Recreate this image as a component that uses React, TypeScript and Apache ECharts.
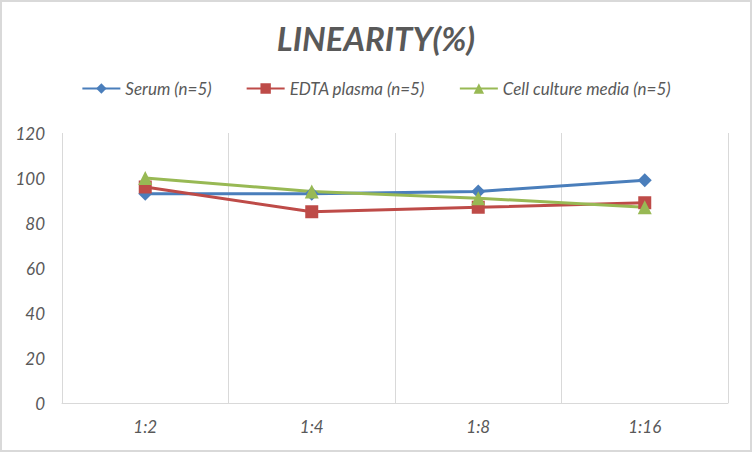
import { useEffect, useRef } from 'react'
import * as echarts from 'echarts'

// data
const categories = ['1:2', '1:4', '1:8', '1:16']
const serum = [93, 93, 94, 99]
const edtaPlasma = [96, 85, 87, 89]
const cellCulture = [100, 94, 91, 87]
const seriesNames = ['Serum (n=5)', 'EDTA plasma (n=5)', 'Cell culture media (n=5)']

const FONT = 'Lato, "Open Sans", sans-serif'
const GREY = '#595959'

const App: React.FC = () => {
  const chartRef = useRef<HTMLDivElement | null>(null)

  useEffect(() => {
    if (chartRef.current === null) return
    const chart = echarts.init(chartRef.current, null, { renderer: 'svg' })

    const line = (name: string, data: number[], color: string, symbol: string, size: number) => ({
      name,
      type: 'line',
      data,
      symbol,
      symbolSize: size,
      itemStyle: { color },
      lineStyle: { color, width: 3 }
    })

    chart.setOption({
      animation: false,
      backgroundColor: '#fff',
      title: {
        text: 'LINEARITY(%)',
        left: 'center',
        top: 14,
        textStyle: {
          fontFamily: FONT,
          fontSize: 33,
          fontWeight: 'bold',
          fontStyle: 'italic',
          color: GREY
        }
      },
      legend: {
        top: 73,
        left: 'center',
        itemWidth: 38,
        itemHeight: 13,
        itemGap: 34,
        textStyle: { fontFamily: FONT, fontSize: 17, fontStyle: 'italic', color: GREY },
        data: seriesNames
      },
      grid: { left: 60, right: 22, top: 131, bottom: 47 },
      xAxis: {
        type: 'category',
        data: categories,
        axisLine: { lineStyle: { color: '#d9d9d9', width: 1 } },
        axisTick: { show: false },
        splitLine: { show: true, lineStyle: { color: '#d9d9d9', width: 1 } },
        axisLabel: { fontFamily: FONT, fontSize: 17, fontStyle: 'italic', color: GREY, margin: 15 }
      },
      yAxis: {
        type: 'value',
        min: 0,
        max: 120,
        interval: 20,
        axisLine: { show: false },
        axisTick: { show: false },
        splitLine: { show: false },
        axisLabel: { fontFamily: FONT, fontSize: 17, fontStyle: 'italic', color: GREY, margin: 17 }
      },
      series: [
        line(seriesNames[0], serum, '#4a7ebb', 'diamond', 14),
        line(seriesNames[1], edtaPlasma, '#be4b48', 'rect', 13),
        line(seriesNames[2], cellCulture, '#98b954', 'triangle', 14)
      ]
    })

    return () => {
      chart.dispose()
    }
  }, [])

  return (
    <div
      ref={chartRef}
      style={{
        position: 'absolute',
        left: 0,
        top: 0,
        width: 752,
        height: 452,
        boxSizing: 'border-box',
        border: '2px solid #d9d9d9'
      }}
    ></div>
  )
}

export default App
